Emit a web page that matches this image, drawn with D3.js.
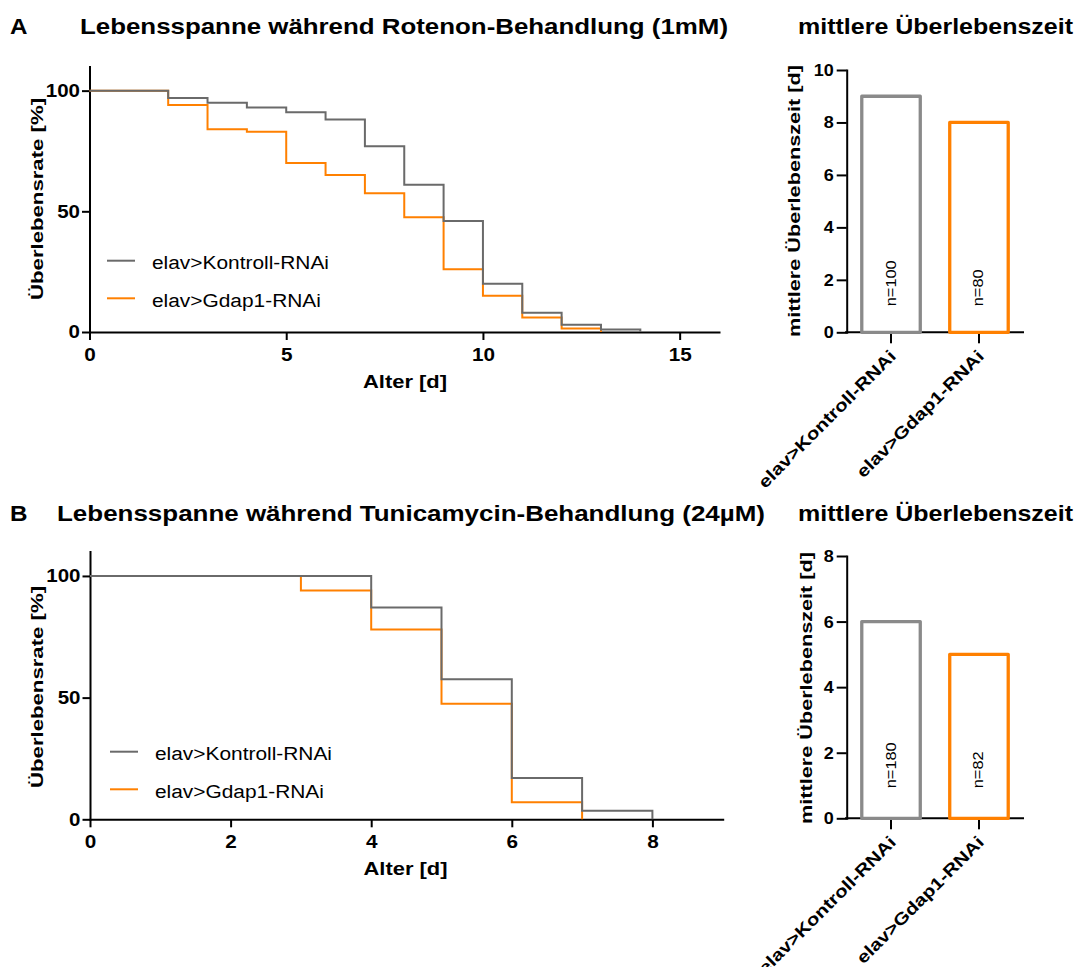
<!DOCTYPE html>
<html><head><meta charset="utf-8">
<script src="https://cdn.jsdelivr.net/npm/d3@7"></script>
<style>body{margin:0;background:#fff} svg text{font-family:"Liberation Sans",Arial,Helvetica,sans-serif}</style>
</head><body><svg id="c" width="1078" height="967"></svg>
<script>
// ---------- data ----------
const seriesNames = ["elav>Kontroll-RNAi", "elav>Gdap1-RNAi"];
const daysA_ctrl = [0, 2, 3, 4, 5, 6, 7, 8, 9, 10, 11, 12, 13, 14];
const survA_ctrl = [100, 97, 95, 93, 91, 88, 77, 61, 46, 20, 8, 3, 1, 0];
const daysA_gdap = [0, 2, 3, 4, 5, 6, 7, 8, 9, 10, 11, 12, 13];
const survA_gdap = [100, 94, 84, 83, 70, 65, 57.5, 47.5, 26, 15, 6, 1.5, 0];
const daysB_ctrl = [0, 4, 5, 6, 7, 8];
const survB_ctrl = [100, 87, 57.5, 17, 3.5, 0];
const daysB_gdap = [0, 3, 4, 5, 6, 7];
const survB_gdap = [100, 94, 78, 47.5, 7, 0];
const medianA = [9, 8];
const nA = ["n=100", "n=80"];
const medianB = [6, 5];
const nB = ["n=180", "n=82"];
const xTicksA = [0, 5, 10, 15];
const xTicksB = [0, 2, 4, 6, 8];
const yTicksSurv = [0, 50, 100];
const yTicksBarA = [0, 2, 4, 6, 8, 10];
const yTicksBarB = [0, 2, 4, 6, 8];
const titleA = "Lebensspanne während Rotenon-Behandlung (1mM)";
const titleB = "Lebensspanne während Tunicamycin-Behandlung (24µM)";
const titleBar = "mittlere Überlebenszeit";
const yLabelSurv = "Überlebensrate [%]";
const yLabelBar = "mittlere Überlebenszeit [d]";
const xLabelSurv = "Alter [d]";

// ---------- style ----------
const GRAY = "#6a6a6a", ORANGE = "#ff8000", BARGRAY = "#8a8a8a";
const svg = d3.select("#c");

function stretch(sel, k) {
  sel.each(function () {
    const L = this.getComputedTextLength();
    this.setAttribute("textLength", L * k);
    this.setAttribute("lengthAdjust", "spacingAndGlyphs");
  });
  return sel;
}
function fit(sel, len) {
  sel.attr("textLength", len).attr("lengthAdjust", "spacingAndGlyphs");
  return sel;
}
function styleAxis(g, fs, k) {
  g.select(".domain").attr("stroke", "#000").attr("stroke-width", 2).attr("stroke-linecap", "square");
  g.selectAll(".tick line").attr("stroke", "#000").attr("stroke-width", 2);
  g.selectAll(".tick text").attr("fill", "#000").attr("font-size", fs).attr("font-weight", "bold")
    .attr("font-family", '"Liberation Sans",Arial,sans-serif');
  stretch(g.selectAll(".tick text"), k);
}

function header(cfg) {
  stretch(svg.append("text").attr("x", 10).attr("y", cfg.base).attr("font-size", 22).attr("font-weight", "bold").text(cfg.letter), 1.1);
  fit(svg.append("text").attr("x", cfg.titleX).attr("y", cfg.base).attr("font-size", 22).attr("font-weight", "bold").text(cfg.title), cfg.titleLen);
  fit(svg.append("text").attr("x", 798).attr("y", cfg.base).attr("font-size", 22).attr("font-weight", "bold").text(titleBar), 275);
}

function survival(cfg) {
  const x = d3.scaleLinear().domain(cfg.xDomain).range(cfg.xRange);
  const y = d3.scaleLinear().domain([0, 110]).range(cfg.yRange);
  const gx = svg.append("g").attr("transform", `translate(0,${y(0)})`)
    .call(d3.axisBottom(x).tickValues(cfg.xTicks).tickSize(8).tickSizeOuter(0).tickPadding(8));
  styleAxis(gx, 18, 1.15);
  const gy = svg.append("g").attr("transform", `translate(${x(0)},0)`)
    .call(d3.axisLeft(y).tickValues(yTicksSurv).tickSize(7.5).tickSizeOuter(0).tickPadding(2));
  styleAxis(gy, 18, 1.14);

  const line = d3.line().x(d => x(d[0])).y(d => y(d[1])).curve(d3.curveStepAfter);
  const series = [
    { days: cfg.daysG, surv: cfg.survG, color: ORANGE },
    { days: cfg.daysC, surv: cfg.survC, color: GRAY }
  ];
  series.forEach(s => {
    svg.append("path").datum(s.days.map((d, i) => [d, s.surv[i]]))
      .attr("d", line).attr("fill", "none").attr("stroke", s.color).attr("stroke-width", 2);
  });

  // legend
  const lg = [{ name: seriesNames[0], color: GRAY }, { name: seriesNames[1], color: ORANGE }];
  lg.forEach((l, i) => {
    const ly = cfg.legY + i * 37.6;
    svg.append("line").attr("x1", cfg.legX).attr("x2", cfg.legX + 28).attr("y1", ly).attr("y2", ly)
      .attr("stroke", l.color).attr("stroke-width", 2);
    const t = svg.append("text").attr("x", cfg.legX + 45).attr("y", ly + 8.5).attr("font-size", 18).text(l.name);
    stretch(t, 1.16);
  });

  // axis labels
  const xl = svg.append("text").attr("x", (cfg.xRange[0] + 405 - 89.5) ).attr("y", y(0) + 56)
    .attr("text-anchor", "middle").attr("font-size", 18).attr("font-weight", "bold").text(xLabelSurv);
  fit(xl, 84);
  const yl = svg.append("text").attr("transform", `translate(43,${cfg.yLabelY}) rotate(-90)`)
    .attr("text-anchor", "middle").attr("font-size", 16).attr("font-weight", "bold").text(yLabelSurv);
  fit(yl, 202);
}

function bars(cfg) {
  const x = d3.scaleBand().domain(seriesNames).range([847, 1023]).paddingInner(0.335).paddingOuter(0.168);
  const y = d3.scaleLinear().domain(cfg.yDomain).range(cfg.yRange);
  const gx = svg.append("g").attr("transform", `translate(0,${y(0)})`)
    .call(d3.axisBottom(x).tickSize(11).tickSizeOuter(0).tickFormat(""));
  styleAxis(gx, 17, 1);
  gx.select(".domain").attr("d", `M${846},0H1023`);
  const gy = svg.append("g").attr("transform", `translate(846.7,0)`)
    .call(d3.axisLeft(y).tickValues(cfg.yTicks).tickSize(10).tickSizeOuter(0).tickPadding(3));
  styleAxis(gy, 17, 1.06);

  const colors = [BARGRAY, ORANGE];
  seriesNames.forEach((c, i) => {
    svg.append("rect").attr("x", x(c)).attr("width", x.bandwidth())
      .attr("y", y(cfg.values[i])).attr("height", y(0) - y(cfg.values[i]))
      .attr("fill", "none").attr("stroke", colors[i]).attr("stroke-width", 3.3).attr("stroke-linejoin", "round");
    const cx = x(c) + x.bandwidth() / 2;
    const nt = svg.append("text").attr("transform", `translate(${cx + 4.5},${y(0) - cfg.nOff}) rotate(-90)`)
      .attr("font-size", 14).text(cfg.n[i]);
    stretch(nt, 1.17);
    const lt = svg.append("text").attr("transform", `translate(${cx + 6},${y(0) + 25}) rotate(-45)`)
      .attr("text-anchor", "end").attr("font-size", 17).attr("font-weight", "bold").text(c);
    stretch(lt, 1.2);
  });
  const yl = svg.append("text").attr("transform", `translate(${cfg.yLabelX},${cfg.yLabelY}) rotate(-90)`)
    .attr("text-anchor", "middle").attr("font-size", 16).attr("font-weight", "bold").text(yLabelBar);
  fit(yl, 272);
}

header({ letter: "A", base: 34, title: titleA, titleX: 80, titleLen: 648 });
header({ letter: "B", base: 521, title: titleB, titleX: 57, titleLen: 708 });

survival({ xDomain: [0, 16], xRange: [89.5, 719], yRange: [332, 66.5], xTicks: xTicksA,
  daysC: daysA_ctrl, survC: survA_ctrl, daysG: daysA_gdap, survG: survA_gdap,
  legX: 107, legY: 260.7, yLabelY: 199 });
survival({ xDomain: [0, 9], xRange: [90, 722.7], yRange: [819.3, 551.6], xTicks: xTicksB,
  daysC: daysB_ctrl, survC: survB_ctrl, daysG: daysB_gdap, survG: survB_gdap,
  legX: 110, legY: 751.7, yLabelY: 687 });

bars({ yDomain: [0, 10], yRange: [332.3, 70], yTicks: yTicksBarA, values: medianA, n: nA, nOff: 26, yLabelX: 800, yLabelY: 201 });
bars({ yDomain: [0, 8], yRange: [818.3, 556], yTicks: yTicksBarB, values: medianB, n: nB, nOff: 30, yLabelX: 812, yLabelY: 688 });
</script></body></html>
